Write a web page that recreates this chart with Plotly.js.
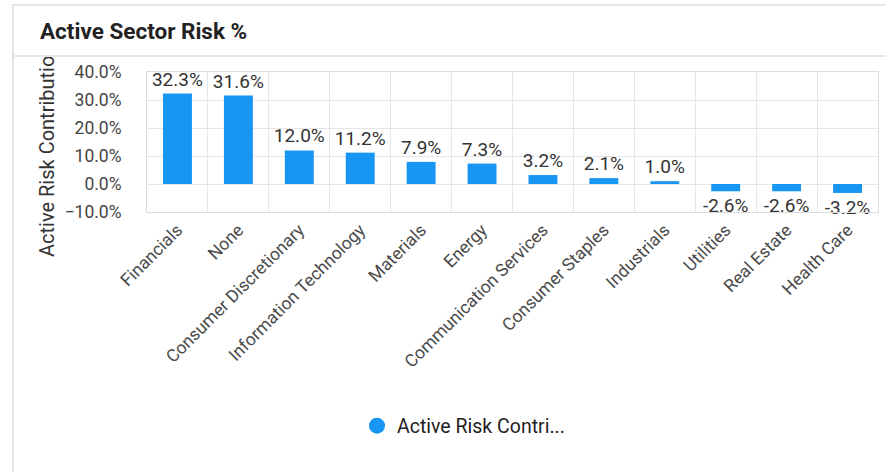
<!DOCTYPE html>
<html>
<head>
<meta charset="utf-8">
<script src="https://cdn.plot.ly/plotly-3.0.1.min.js"></script>
<style>
  html, body { margin: 0; padding: 0; background: #fff; }
  #wrap { position: relative; width: 886px; height: 472px; overflow: hidden; }
  #chart { position: absolute; left: 0; top: 0; width: 886px; height: 472px; }
  #cardTop { position: absolute; left: 12px; top: 4px; width: 874px; height: 2px; background: #e6e6e6; }
  #cardLeft { position: absolute; left: 12px; top: 4px; width: 2px; height: 468px; background: #e3e3e3; }
  #headerMask { position: absolute; left: 14px; top: 44px; width: 872px; height: 11px; background: #fff; border-bottom: 2px solid #e6e6e6; }
</style>
</head>
<body>
<div id="wrap">
  <div id="chart"></div>
  <div id="cardTop"></div>
  <div id="cardLeft"></div>
  <div id="headerMask"></div>
</div>
<script>
const categories = ["Financials", "None", "Consumer Discretionary", "Information Technology", "Materials", "Energy", "Communication Services", "Consumer Staples", "Industrials", "Utilities", "Real Estate", "Health Care"];
const values = [32.3, 31.6, 12.0, 11.2, 7.9, 7.3, 3.2, 2.1, 1.0, -2.6, -2.6, -3.2];
const seriesName = "Active Risk Contri...";
const yTitle = "Active Risk Contribution";
const chartTitle = "Active Sector Risk %";

const blue = "#1796f3";
const font = "Roboto, 'Noto Sans', sans-serif";

const traces = [
  {
    type: "bar",
    x: categories,
    y: values,
    marker: { color: blue },
    text: values.map(v => v.toFixed(1) + "%"),
    textposition: "outside",
    constraintext: "none",
    textfont: { family: font, size: 19, color: "#333" },
    cliponaxis: false,
    showlegend: false,
    hoverinfo: "x+y"
  },
  {
    type: "scatter",
    mode: "markers",
    x: [null],
    y: [null],
    name: seriesName,
    marker: { color: blue, size: 17, symbol: "circle" },
    showlegend: true
  }
];

const layout = {
  width: 886,
  height: 472,
  margin: { l: 147, r: 8, t: 72, b: 260 },
  paper_bgcolor: "#fff",
  plot_bgcolor: "#fff",
  font: { family: font, color: "#444" },
  title: {
    text: "<b>" + chartTitle + "</b>",
    x: 40 / 886, xref: "container", xanchor: "left",
    y: 1 - 31 / 472, yref: "container", yanchor: "middle",
    font: { family: font, size: 22.5, color: "#222" }
  },
  bargap: 0.525,
  xaxis: {
    type: "category",
    tickangle: -45,
    tickfont: { family: font, size: 17.5, color: "#4a4a4a" },
    showgrid: true,
    gridcolor: "#e6e6e6",
    tickson: "boundaries",
    ticks: "outside",
    ticklen: 4,
    tickcolor: "rgba(0,0,0,0)",
    showline: true,
    mirror: true,
    linecolor: "#dcdcdc",
    linewidth: 1,
    zeroline: false,
    fixedrange: true
  },
  yaxis: {
    range: [-10, 40],
    dtick: 10,
    tickformat: ".1f",
    ticksuffix: "%",
    tickfont: { family: font, size: 17.5, color: "#444" },
    showgrid: true,
    gridcolor: "#e6e6e6",
    zeroline: false,
    showline: true,
    mirror: true,
    linecolor: "#dcdcdc",
    linewidth: 1,
    ticks: "outside",
    ticklen: 21,
    tickcolor: "rgba(0,0,0,0)",
    fixedrange: true
  },
  showlegend: true,
  legend: {
    orientation: "h",
    x: (357 - 147) / 731,
    xanchor: "left",
    y: (212 - 426) / 140,
    yanchor: "middle",
    font: { family: font, size: 19.5, color: "#222" },
    bgcolor: "rgba(0,0,0,0)"
  },
  annotations: [
    {
      text: yTitle,
      xref: "paper", yref: "paper",
      x: 0, y: 0,
      xshift: -100, yshift: 61,
      xanchor: "center", yanchor: "middle",
      textangle: -90,
      showarrow: false,
      font: { family: font, size: 20, color: "#333" }
    }
  ]
};

Plotly.newPlot("chart", traces, layout, { displayModeBar: false, staticPlot: false });
</script>
</body>
</html>
